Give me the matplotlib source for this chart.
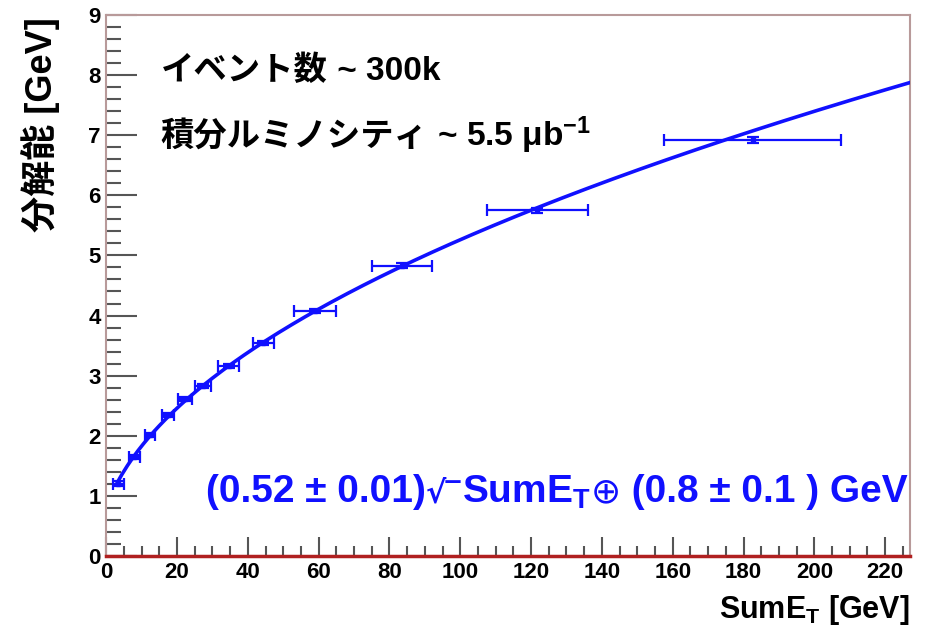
import numpy as np
import matplotlib.pyplot as plt
from matplotlib.ticker import MultipleLocator
from matplotlib.offsetbox import TextArea, HPacker, AnchoredOffsetbox

plt.rcParams['mathtext.fontset'] = 'custom'
plt.rcParams['mathtext.rm'] = 'Liberation Sans:bold'
plt.rcParams['mathtext.it'] = 'Liberation Sans:bold'
plt.rcParams['mathtext.bf'] = 'Liberation Sans:bold'

# measured points (SumET bins) and resolution
sum_et = [3.4, 7.9, 12.4, 17.4, 22.2, 27.3, 34.6, 44.4, 59.0, 83.5, 121.8, 182.6]
sum_et_err = [1.5, 1.5, 1.5, 1.7, 2.0, 2.2, 3.0, 3.0, 6.0, 8.4, 14.3, 25.0]
resol = [1.20, 1.65, 2.01, 2.35, 2.61, 2.83, 3.16, 3.54, 4.08, 4.83, 5.75, 6.92]
resol_err = [0.04, 0.03, 0.03, 0.03, 0.03, 0.03, 0.03, 0.03, 0.03, 0.04, 0.04, 0.05]

# fit parameters: sqrt((a*sqrt(x))^2 + b^2)
fit_a = 0.52
fit_b = 0.8

blue = '#1010ff'
latin_first = ['Liberation Sans', 'Noto Sans CJK JP', 'DejaVu Sans']


def packed(ax, parts, xy, loc):
    # row of text pieces, each with its own font settings
    row = HPacker(children=[TextArea(s, textprops=p) for s, p in parts],
                  align='baseline', pad=0, sep=0)
    box = AnchoredOffsetbox(loc=loc, child=row, pad=0, borderpad=0, frameon=False,
                            bbox_to_anchor=xy, bbox_transform=ax.transAxes)
    ax.add_artist(box)


fig = plt.figure(figsize=(9.4, 6.32), dpi=100)
ax = fig.add_axes([0.113, 0.1203, 0.855, 0.856])

xf = np.linspace(3.0, 227, 300)
ax.plot(xf, np.sqrt((fit_a * np.sqrt(xf))**2 + fit_b**2), color=blue, lw=2.6, zorder=3)
ax.errorbar(sum_et, resol, xerr=sum_et_err, yerr=resol_err, fmt='s', ms=3,
            color=blue, ecolor=blue, elinewidth=1.6, capsize=4, capthick=1.6, zorder=4)

ax.set_xlim(0, 227)
ax.set_ylim(0, 9)
ax.xaxis.set_major_locator(MultipleLocator(20))
ax.xaxis.set_minor_locator(MultipleLocator(5))
ax.yaxis.set_major_locator(MultipleLocator(1))
ax.yaxis.set_minor_locator(MultipleLocator(0.2))
ax.tick_params(which='both', direction='in', color='#555555', width=1.5,
               top=False, right=False, pad=4)
ax.tick_params(axis='y', which='major', length=22)
ax.tick_params(axis='y', which='minor', length=11)
ax.tick_params(axis='x', which='major', length=14)
ax.tick_params(axis='x', which='minor', length=7)
for lab in ax.get_xticklabels() + ax.get_yticklabels():
    lab.set_fontfamily('Liberation Sans')
    lab.set_fontweight('bold')
    lab.set_fontsize(16)

for s in ['left', 'right', 'top']:
    ax.spines[s].set_color('#b89a9a')
    ax.spines[s].set_linewidth(1.5)
ax.spines['bottom'].set_color('#b02020')
ax.spines['bottom'].set_linewidth(2.5)

jp = dict(family='Noto Sans CJK JP', fontweight='bold', fontsize=24, color='black')
en = dict(family='Liberation Sans', fontweight='bold', fontsize=24, color='black')
packed(ax, [('イベント数', jp), (' ~ 300k', en)], (0.068, 0.898), 'center left')
packed(ax, [('積分ルミノシティ', jp), (' ~ 5.5 μb$^{-1}$', en)], (0.068, 0.778), 'center left')

# fit formula, built from pieces so each glyph gets a font that has it
fprops = dict(family='Liberation Sans', fontweight='bold', fontsize=28, color=blue)
packed(ax, [
    ('(0.52 ± 0.01)', fprops),
    ('√‾', dict(fprops, family='DejaVu Sans', fontsize=22)),
    ('SumE$_{T}$', fprops),
    ('⊕', dict(fprops, family='DejaVu Sans', fontweight='normal', fontsize=26)),
    (' (0.8 ± 0.1 ) GeV', fprops),
], (0.997, 0.118), 'center right')

fig.text(0.043, 0.972, '分解能 [GeV]', family=latin_first, fontweight='bold', fontsize=26,
         rotation=90, ha='center', va='top')
fig.text(0.968, 0.035, 'SumE$_{T}$ [GeV]', family='Liberation Sans',
         fontweight='bold', fontsize=22, ha='right', va='center')

fig.savefig('out.png', dpi=100)
